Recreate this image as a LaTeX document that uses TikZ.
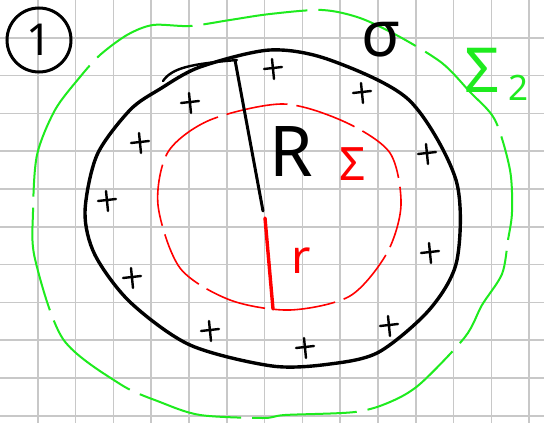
\documentclass[tikz,border=0pt]{standalone}
\usepackage{fontspec}
\setmainfont{Noto Sans}
\definecolor{gridgray}{RGB}{200,200,200}
\definecolor{sheetgreen}{RGB}{30,235,30}
\definecolor{sheetred}{RGB}{255,0,0}

\begin{document}
\begin{tikzpicture}[x=1pt,y=-1pt,
    gridline/.style={draw=gridgray, line width=1.6pt},
    shell/.style={black, line width=3.4pt, line cap=round, line join=round},
    gaussin/.style={sheetred, line width=1.6pt, dash pattern=on 62pt off 9pt},
    gaussout/.style={sheetgreen, line width=2pt, dash pattern=on 105pt off 11pt},
    chargeplus/.style={black, line width=2.4pt, line cap=round},
    hand/.style={inner sep=0pt}]
    \useasboundingbox (0,0) rectangle (544,423);
    \fill[white] (0,0) rectangle (544,423);
    % This draws the squared paper.
        \foreach \i in {1,...,14} \draw[gridline] (37.8*\i-0.1,0) -- (37.8*\i-0.1,423);
        \foreach \i in {1,...,11} \draw[gridline] (0,37.8*\i) -- (544,37.8*\i);
    % This draws the outer green surface.
        \draw[gaussout] plot[smooth cycle] coordinates {(33,212) (37,155) (55,110) (80,77) (100,55) (127,35) (153,25) (190,26) (230,20) (270,14) (322,10) (360,18) (400,37) (442,63) (470,92) (495,120) (510,170) (512,212) (508,240) (502,274) (482,305) (465,337) (420,384) (390,402) (355,412) (285,415) (263,418) (200,415) (160,402) (120,384) (63,339) (35,259)};
    % This draws the charged shell.
        \draw[shell] plot[smooth cycle] coordinates {(85,212) (97,155) (130,110) (160,89) (200,67) (270,50) (330,60) (409,100) (456,180) (457,260) (430,309) (379,352) (330,364) (272,366) (190,345) (130,302) (95,255)};
        \draw[shell, line width=2.4pt] (163,81) .. controls (172,68) and (190,64) .. (237,60);
    % This draws the inner red surface.
        \draw[gaussin] plot[smooth cycle] coordinates {(158,205) (168,152) (210,120) (283,104) (345,122) (390,153) (401,205) (387,253) (350,296) (290,310) (230,300) (180,268)};
    % The two radii.
        \coordinate (top) at (235,60);
        \coordinate (mid) at (263,211);
        \coordinate (midr) at (265,218);
        \coordinate (bot) at (273,309);
        \draw[shell, line width=3pt] (top) -- (mid);
        \draw[sheetred, line width=3.4pt, line cap=round] (midr) -- (bot);
    % The plus charges on the shell.
        \foreach \px/\py in {273/68, 190/102, 140/142, 107/200, 132/277, 210/330, 305/347, 389/325, 430/252, 427/153, 362/92}
            \draw[chargeplus] (\px-9,\py+1) -- (\px+9,\py-1) (\px-1,\py-9) -- (\px+1,\py+11);
    % Below nodes are the labels.
        \node[hand, circle, draw, line width=3pt, minimum size=64pt, font=\fontsize{44}{44}\selectfont] (one) at (39,40) {1};
        \node[hand, font=\fontsize{64}{64}\selectfont] (sigma) at (381,40) {σ};
        \node[hand, font=\fontsize{70}{70}\selectfont] (bigR) at (291,152) {R};
        \node[hand, text=sheetred, font=\fontsize{46}{46}\selectfont] (sigin) at (353,164) {Σ};
        \node[hand, text=sheetred, font=\fontsize{47}{47}\selectfont] (smallr) at (301,261) {r};
        \node[hand, anchor=base west, text=sheetgreen, font=\fontsize{62}{62}\selectfont] (sigout) at (464,92) {Σ\hspace{9pt}\raisebox{-8pt}{\fontsize{35}{35}\selectfont 2}};
\end{tikzpicture}
\end{document}
